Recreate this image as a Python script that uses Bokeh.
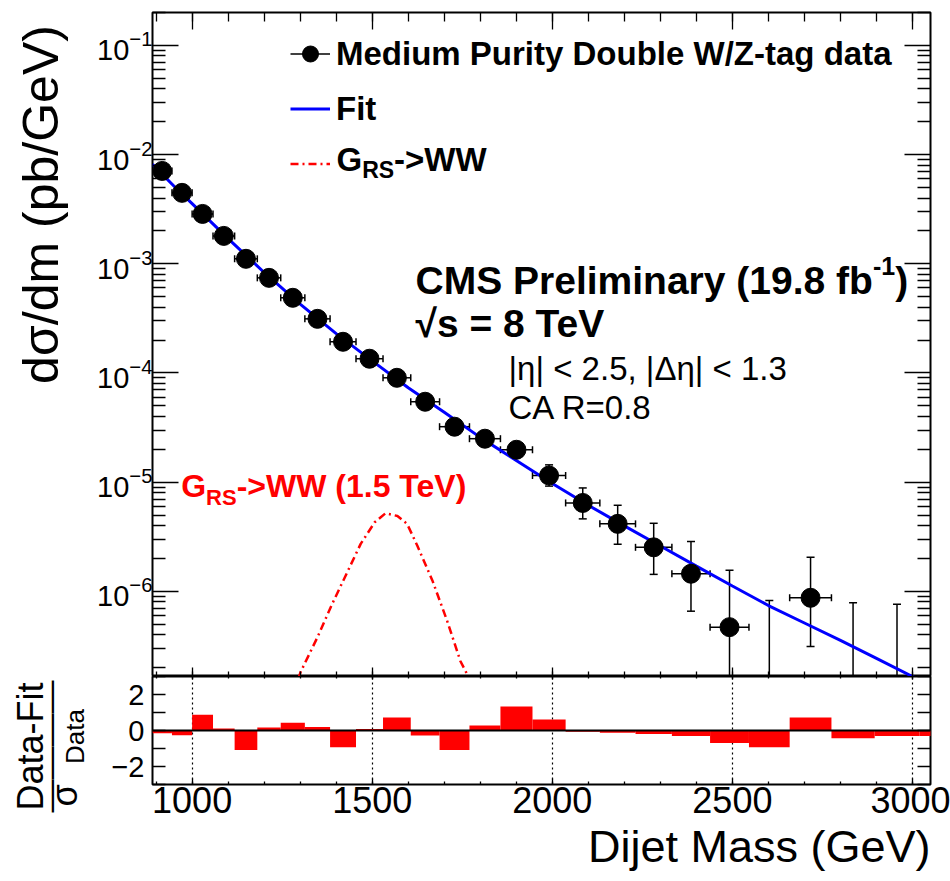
import math
from bokeh.plotting import figure
from bokeh.layouts import column, row
from bokeh.models import (Range1d, LinearAxis, LogAxis, FixedTicker, SingleIntervalTicker,
                          Label, Legend, LegendItem, ColumnDataSource, Span, Grid, Title,
                          CustomJSTickFormatter)
from bokeh.embed import file_html
from bokeh.resources import INLINE

# ---------------- data ----------------
bin_edges = [890, 944, 1000, 1058, 1118, 1181, 1246, 1313, 1383, 1455, 1530, 1607,
             1687, 1770, 1856, 1945, 2037, 2132, 2231, 2332, 2438, 2546, 2659,
             2775, 2895, 3019, 3147]

data_y = [7.08e-3, 4.46e-3, 2.86e-3, 1.80e-3, 1.11e-3, 7.43e-4, 4.88e-4, 3.13e-4,
          1.93e-4, 1.35e-4, 9.03e-5, 5.45e-5, 3.22e-5, 2.50e-5, 1.98e-5, 1.15e-5,
          6.45e-6, 4.15e-6, 2.53e-6, 1.45e-6, 4.70e-7, 0.0, 8.73e-7, 0.0, 0.0]
data_hi = [7.25e-3, 4.58e-3, 2.95e-3, 1.87e-3, 1.16e-3, 7.80e-4, 5.15e-4, 3.33e-4,
           2.07e-4, 1.46e-4, 9.85e-5, 6.00e-5, 3.60e-5, 2.84e-5, 2.28e-5, 1.44e-5,
           8.85e-6, 6.14e-6, 4.20e-6, 2.86e-6, 1.56e-6, 8.24e-7, 2.05e-6, 7.85e-7, 7.62e-7]
data_lo = [6.91e-3, 4.34e-3, 2.77e-3, 1.73e-3, 1.06e-3, 7.07e-4, 4.62e-4, 2.94e-4,
           1.80e-4, 1.25e-4, 8.25e-5, 4.92e-5, 2.86e-5, 2.19e-5, 1.70e-5, 9.20e-6,
           4.61e-6, 2.70e-6, 1.43e-6, 6.58e-7, 1e-8, 1e-8, 3.13e-7, 1e-8, 1e-8]

pull = [-0.15, -0.26, 0.87, 0.11, -1.09, 0.17, 0.43, 0.20, -0.93, 0.09, 0.72, -0.28,
        -1.09, 0.28, 1.33, 0.61, -0.07, -0.13, -0.20, -0.30, -0.69, -0.93, 0.72,
        -0.43, -0.30, -0.30]

fit_mass = [890, 950, 1000, 1100, 1200, 1300, 1400, 1500, 1600, 1700, 1800, 1900,
            2000, 2100, 2200, 2300, 2400, 2500, 2600, 2700, 2800, 2900, 3000, 3050]
fit_val = [8.13e-3, 5.13e-3, 3.55e-3, 1.70e-3, 8.32e-4, 4.27e-4, 2.29e-4, 1.29e-4,
           7.31e-5, 4.37e-5, 2.57e-5, 1.58e-5, 9.73e-6, 6.14e-6, 3.98e-6, 2.60e-6,
           1.70e-6, 1.12e-6, 7.41e-7, 5.13e-7, 3.55e-7, 2.43e-7, 1.66e-7, 1.38e-7]

sig_mass = [1295, 1301, 1348, 1389, 1430, 1468, 1507, 1537, 1570, 1597, 1625, 1667,
            1708, 1745, 1762]
sig_val = [1.58e-7, 1.82e-7, 3.80e-7, 7.69e-7, 1.48e-6, 2.72e-6, 4.29e-6, 5.19e-6,
           4.90e-6, 4.14e-6, 2.63e-6, 1.26e-6, 5.37e-7, 2.29e-7, 1.78e-7]

x_major = [1000, 1500, 2000, 2500, 3000]
y_major = [1e-6, 1e-5, 1e-4, 1e-3, 1e-2, 1e-1]
r_major = [-2, 0, 2]
r_minor = [-3, -1, 1, 3]

FONT = "Liberation Sans"

# ---------------- derived sources ----------------
n = len(data_y)
centers = [(bin_edges[i] + bin_edges[i + 1]) / 2 for i in range(n)]
nz = [i for i in range(n) if data_y[i] > 0]
pts = ColumnDataSource(dict(
    x=[centers[i] for i in nz], y=[data_y[i] for i in nz],
    xl=[bin_edges[i] for i in nz], xr=[bin_edges[i + 1] for i in nz]))
errs = ColumnDataSource(dict(x=centers, lo=data_lo, hi=data_hi))
ratio = ColumnDataSource(dict(left=bin_edges[:-1], right=bin_edges[1:], top=pull))

y_minor = [m * 10.0 ** e for e in range(-7, 0) for m in range(2, 10)]


def blank():
    return CustomJSTickFormatter(code="return ''")


def lab(fig, text, x, y, size, bold=False, color="black", angle=0.0, align="left",
        baseline="alphabetic"):
    fig.add_layout(Label(x=x, y=y, x_units="screen", y_units="screen", text=text,
                         text_font=FONT, text_font_size=f"{size}px",
                         text_font_style="bold" if bold else "normal",
                         text_color=color, angle=angle, text_align=align,
                         text_baseline=baseline))


LEFT = 62

# ---------------- top panel ----------------
p = figure(frame_width=778, frame_height=664, min_border_left=LEFT, min_border_right=20,
           min_border_top=12, min_border_bottom=0, title=None,
           x_range=Range1d(890, 3050), y_range=Range1d(1.66e-7, 0.2),
           y_axis_type="log", x_axis_location=None, y_axis_location=None,
           output_backend="svg", toolbar_location=None)
p.grid.visible = False
p.outline_line_color = "black"
p.outline_line_width = 2
p.background_fill_color = "white"
p.border_fill_color = "white"


def log_axis(show):
    ax = LogAxis(ticker=FixedTicker(ticks=y_major, minor_ticks=y_minor),
                 major_tick_in=26, major_tick_out=0, minor_tick_in=13, minor_tick_out=0,
                 major_tick_line_width=1.3, minor_tick_line_width=1.3,
                 axis_line_color=None,
                 major_label_text_font=FONT, major_label_text_color="black",
                 major_label_text_font_size="29px",
                 major_label_standoff=0)
    if not show:
        ax.formatter = blank()
    return ax


def x_axis(show, maj_in, min_in, size="36px"):
    ax = LinearAxis(ticker=SingleIntervalTicker(interval=500, num_minor_ticks=5),
                    major_tick_in=maj_in, major_tick_out=0, minor_tick_in=min_in,
                    minor_tick_out=0, major_tick_line_width=1.3, minor_tick_line_width=1.3,
                    axis_line_color=None, major_label_text_font=FONT,
                    major_label_text_color="black",
                    major_label_text_font_size=size,
                    major_label_standoff=2 if show else 0)
    if not show:
        ax.formatter = blank()
    return ax


p.add_layout(log_axis(True), "left")
p.add_layout(log_axis(False), "right")
p.add_layout(x_axis(False, 17, 9), "above")
p.add_layout(x_axis(False, 9, 5), "below")

r_xerr = p.segment(x0="xl", x1="xr", y0="y", y1="y", source=pts, line_color="black",
                   line_width=1.5)
p.scatter(x="xl", y="y", source=pts, marker="dash", angle=math.pi / 2, size=7,
          line_color="black", line_width=1.5)
p.scatter(x="xr", y="y", source=pts, marker="dash", angle=math.pi / 2, size=7,
          line_color="black", line_width=1.5)
p.segment(x0="x", x1="x", y0="lo", y1="hi", source=errs, line_color="black", line_width=1.5)
p.scatter(x="x", y="hi", source=errs, marker="dash", size=8, line_color="black",
          line_width=1.5)
p.scatter(x="x", y="lo", source=errs, marker="dash", size=8, line_color="black",
          line_width=1.5)
r_fit = p.line(fit_mass, fit_val, line_color="#0000ff", line_width=3)
r_sig = p.line(sig_mass, sig_val, line_color="red", line_width=2.5, line_dash="8 4 2 4")
r_pts = p.scatter(x="x", y="y", source=pts, marker="circle", size=19, fill_color="black",
                  line_color="black")

legend = Legend(items=[
    LegendItem(label="Medium Purity Double W/Z-tag data", renderers=[r_xerr, r_pts]),
    LegendItem(label="Fit", renderers=[r_fit]),
    LegendItem(label=" ", renderers=[r_sig]),
], location=(138, 490), orientation="vertical", padding=0, margin=0, spacing=10,
    glyph_width=40, glyph_height=45, label_standoff=6,
    label_text_font=FONT, label_text_font_size="33px", label_text_font_style="bold",
    label_text_color="black",
    border_line_alpha=0, background_fill_alpha=0)
p.add_layout(legend)

# legend third entry text with subscript
lab(p, "G", 184, 517, 33, bold=True)
lab(p, "RS", 209.7, 507, 23, bold=True)
lab(p, "->WW", 241.6, 517, 33, bold=True)

# CMS texts
lab(p, "CMS Preliminary (19.8 fb", 263, 396, 39, bold=True)
lab(p, "-1", 720.5, 411, 25, bold=True)
lab(p, ")", 742.7, 396, 39, bold=True)
lab(p, "\u221as = 8 TeV", 263, 353, 39, bold=True)
lab(p, "|\u03b7| < 2.5, |\u0394\u03b7| < 1.3", 356, 308, 33)
lab(p, "CA R=0.8", 356, 269, 33)

# signal label
lab(p, "G", 28.7, 191, 32, bold=True, color="red")
lab(p, "RS", 53.6, 179.3, 22, bold=True, color="red")
lab(p, "->WW (1.5 TeV)", 84.2, 191, 32, bold=True, color="red")

# ---------------- ratio panel ----------------
p2 = figure(frame_width=778, frame_height=108, min_border_left=LEFT, min_border_right=20,
            min_border_top=0, min_border_bottom=0, title=None,
            x_range=p.x_range, y_range=Range1d(-3, 3),
            x_axis_location=None, y_axis_location=None,
            output_backend="svg", toolbar_location=None)
p2.grid.visible = False
p2.outline_line_color = "black"
p2.outline_line_width = 2
p2.background_fill_color = "white"
p2.border_fill_color = "white"

p2.add_layout(Grid(dimension=0, ticker=FixedTicker(ticks=x_major), grid_line_color="black",
                   grid_line_dash="2 3", grid_line_width=1.2))


def r_axis(show):
    ax = LinearAxis(ticker=FixedTicker(ticks=r_major, minor_ticks=r_minor),
                    major_tick_in=13, major_tick_out=0, minor_tick_in=13, minor_tick_out=0,
                    major_tick_line_width=1.3, minor_tick_line_width=1.3,
                    axis_line_color=None, major_label_text_font=FONT,
                    major_label_text_color="black",
                    major_label_text_font_size="29px",
                    major_label_standoff=8 if show else 0)
    if not show:
        ax.formatter = blank()
    return ax


p2.add_layout(r_axis(True), "left")
p2.add_layout(r_axis(False), "right")
p2.add_layout(x_axis(False, 3, 2), "above")
p2.add_layout(x_axis(True, 6, 3), "below")
p2.add_layout(Title(text="Dijet Mass (GeV)", align="right", text_font=FONT,
                    text_font_size="45px", text_font_style="normal", text_color="black",
                    standoff=6), "below")

p2.quad(left="left", right="right", bottom=0, top="top", source=ratio, fill_color="red",
        line_color=None)
p2.add_layout(Span(location=0, dimension="width", line_color="black", line_width=2))

# ---------------- left strip with the axis titles ----------------
STRIP_W = 950 - 778 - 20 - LEFT
strip = figure(frame_width=STRIP_W, frame_height=881, min_border=0, title=None,
               x_range=Range1d(0, 1), y_range=Range1d(0, 1),
               x_axis_location=None, y_axis_location=None,
               output_backend="svg", toolbar_location=None)
strip.grid.visible = False
strip.outline_line_color = None
strip.background_fill_color = "white"
strip.border_fill_color = "white"

lab(strip, "d\u03c3/dm (pb/GeV)", 40, 677, 50, angle=math.pi / 2, align="center",
    baseline="middle")
lab(strip, "Data-Fit", 30, 135, 36, angle=math.pi / 2, align="center", baseline="middle")
lab(strip, "\u2014\u2014\u2014\u2014", 49, 135, 33, angle=math.pi / 2, align="center",
    baseline="middle")
lab(strip, "\u03c3", 64, 86, 36, angle=math.pi / 2, align="center", baseline="middle")
lab(strip, "Data", 74, 145, 26, angle=math.pi / 2, align="center", baseline="middle")

layout = row(strip, column(p, p2, spacing=0), spacing=0)
open("out.html", "w").write(file_html(layout, INLINE))
